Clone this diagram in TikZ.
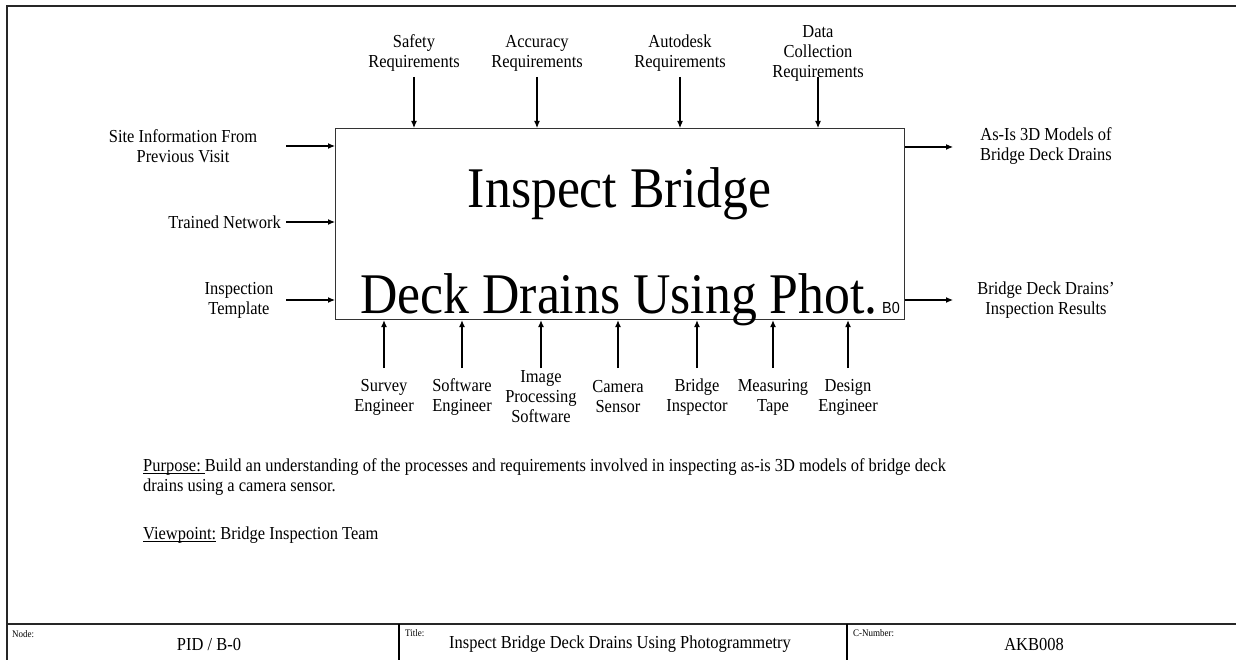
\documentclass[tikz,border=0pt]{standalone}
\usepackage{fontspec}
\setmainfont[FakeStretch=0.9]{Liberation Serif}
\setsansfont[FakeStretch=0.9]{Liberation Sans}
\usetikzlibrary{arrows.meta}
% underline drawn just below the baseline
\newcommand\undl[1]{\setbox0\hbox{#1}\rlap{\rule[-2.5pt]{\wd0}{0.9pt}}\box0}
\begin{document}
\begin{tikzpicture}[x=1pt,y=-1pt,
  lbl/.style={align=center,inner sep=0pt,font=\fontsize{18.3}{20}\selectfont},
  txt/.style={align=left,inner sep=0pt,font=\fontsize{18.3}{20}\selectfont},
  tiny/.style={inner sep=0pt,font=\fontsize{10}{12}\selectfont},
  big/.style={inner sep=0pt,font=\fontsize{57.5}{60}\selectfont},
  flow/.style={line width=1.1pt,-{Latex[length=7pt,width=6pt]}},
  frame/.style={line width=2pt,black!85},
  activity/.style={draw=black!80,line width=1.2pt,minimum width=569pt,minimum height=191pt,inner sep=0pt,anchor=north west}]
\useasboundingbox (0,0) rectangle (1236,660);
\fill[white] (0,0) rectangle (1236,660);

% sheet frame and footer rules
\draw[frame] (1236,6) -- (7,6) -- (7,660);
\draw[frame] (7,623.5) -- (1236,623.5);
\draw[line width=1.2pt] (399,623.5) -- (399,660);
\draw[line width=1.2pt] (847,623.5) -- (847,660);

% activity box
\node[activity] (box) at (335,128) {};
\node[big,anchor=base] (t1) at (619.5,208) {Inspect Bridge};
\node[big,anchor=base] (t2) at (619,313) {Deck Drains Using Phot.};
\node[inner sep=0pt,anchor=base east,font=\sffamily\fontsize{16}{18}\selectfont] (num) at (900,313) {B0};

% controls (top)
\node[lbl] (c1) at (414,53) {Safety\\Requirements};
\node[lbl] (c2) at (537,53) {Accuracy\\Requirements};
\node[lbl] (c3) at (680,53) {Autodesk\\Requirements};
\node[lbl] (c4) at (818,53) {Data\\Collection\\Requirements};
\coordinate (c1s) at (414,77);
\coordinate (c2s) at (537,77);
\coordinate (c3s) at (680,77);
\coordinate (c4s) at (818,77);
\foreach \c in {c1s,c2s,c3s,c4s} \draw[flow] (\c) -- (\c |- box.north);

% inputs (left)
\node[lbl] (i1) at (183,146) {Site Information From\\Previous Visit};
\node[lbl,anchor=east] (i2) at (281,222) {Trained Network};
\node[lbl] (i3) at (239,300) {Inspection\\Template};
\coordinate (i1s) at (286,146);
\coordinate (i2s) at (286,222);
\coordinate (i3s) at (286,300);
\foreach \c in {i1s,i2s,i3s} \draw[flow] (\c) -- (\c -| box.west);

% outputs (right)
\node[lbl] (o1) at (1046,146) {As-Is 3D Models of\\Bridge Deck Drains};
\node[lbl] (o2) at (1046,300) {Bridge Deck Drains’\\Inspection Results};
\coordinate (o1e) at (953,147);
\coordinate (o2e) at (953,300);
\foreach \c in {o1e,o2e} \draw[flow] (\c -| box.east) -- (\c);

% mechanisms (bottom)
\node[lbl] (m1) at (384,397) {Survey\\Engineer};
\node[lbl] (m2) at (462,397) {Software\\Engineer};
\node[lbl] (m3) at (541,397) {Image\\Processing\\Software};
\node[lbl] (m4) at (618,397) {Camera\\Sensor};
\node[lbl] (m5) at (697,397) {Bridge\\Inspector};
\node[lbl] (m6) at (773,397) {Measuring\\Tape};
\node[lbl] (m7) at (848,397) {Design\\Engineer};
\foreach \x/\n in {384/1,462/2,541/3,618/4,697/5,773/6,848/7}
  \coordinate (m\n s) at (\x,368);
\foreach \n in {1,...,7} \draw[flow] (m\n s) -- (m\n s |- box.south);

% purpose and viewpoint
\node[txt,anchor=north west] (purpose) at (143,458) {\undl{Purpose:\ }Build an understanding of the processes and requirements involved in inspecting as-is 3D models of bridge deck\\drains using a camera sensor.};
\node[txt,anchor=west] (view) at (143,535) {\undl{Viewpoint:}\ Bridge Inspection Team};

% footer fields
\node[tiny,anchor=west] (fnode) at (12,634) {Node:};
\node[lbl] (fnodev) at (209,644) {PID / B-0};
\node[tiny,anchor=west] (ftitle) at (405,633) {Title:};
\node[lbl] (ftitlev) at (620,644) {Inspect Bridge Deck Drains Using Photogrammetry};
\node[tiny,anchor=west] (fcn) at (853,633) {C-Number:};
\node[lbl] (fcnv) at (1034,644) {AKB008};
\end{tikzpicture}
\end{document}
